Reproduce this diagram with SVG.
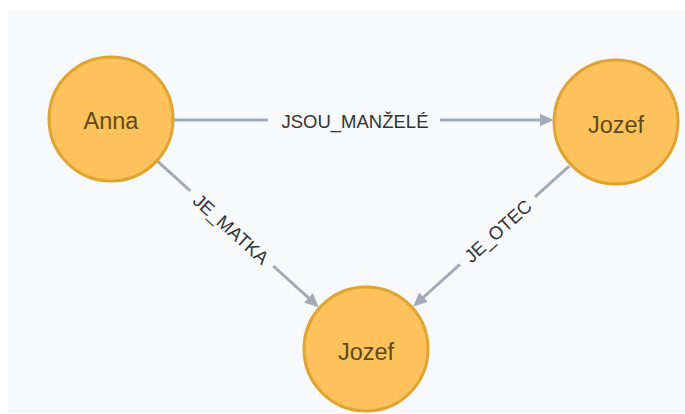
<svg xmlns="http://www.w3.org/2000/svg" width="685" height="414" viewBox="0 0 685 414">
<style>
.node circle{fill:#fdc25c;stroke:#e0a431;stroke-width:3}
.node text{font-family:"Liberation Sans",Arial,sans-serif;font-size:23.5px;fill:#5e4a17;text-anchor:middle;dominant-baseline:central}
.edge{fill:none;stroke:#a5abb6;stroke-width:3}
.lbl{font-family:"Liberation Sans",Arial,sans-serif;font-size:18.5px;fill:#333;text-anchor:middle;dominant-baseline:central}
</style>
<defs>
<marker id="arr" viewBox="0 0 14 13" refX="0.5" refY="6.5" markerWidth="14" markerHeight="13" markerUnits="userSpaceOnUse" orient="auto">
<path d="M0,0 L14,6.5 L0,13 Z" fill="#a5abb6"/>
</marker>
</defs>
<rect x="0" y="0" width="685" height="414" fill="#ffffff"/>
<rect x="8" y="11" width="677" height="402" fill="#f8f9fb"/>
<g id="connectors">
<g id="e-manzele">
<path class="edge" d="M174,120 L268,120"/>
<path class="edge" d="M440,120 L540,120" marker-end="url(#arr)"/>
<text class="lbl" x="355" y="121">JSOU_MANŽELÉ</text>
</g>
<g id="e-matka">
<path class="edge" d="M157.7,161.3 L190.3,190.8"/>
<path class="edge" d="M273.3,266 L308.8,298.2" marker-end="url(#arr)"/>
<text class="lbl" transform="translate(231,229) rotate(42.17)">JE_MATKA</text>
</g>
<g id="e-otec">
<path class="edge" d="M569.2,166.1 L535,196.9"/>
<path class="edge" d="M460,264.4 L423.2,297.5" marker-end="url(#arr)"/>
<text class="lbl" transform="translate(498,231) rotate(-41.99)">JE_OTEC</text>
</g>
</g>
<g id="node-anna" class="node">
<circle cx="111" cy="119" r="62"/>
<text x="111" y="121">Anna</text>
</g>
<g id="node-jozef1" class="node">
<circle cx="616" cy="122" r="62"/>
<text x="616" y="125">Jozef</text>
</g>
<g id="node-jozef2" class="node">
<circle cx="366" cy="349" r="62"/>
<text x="366" y="352">Jozef</text>
</g>
</svg>
